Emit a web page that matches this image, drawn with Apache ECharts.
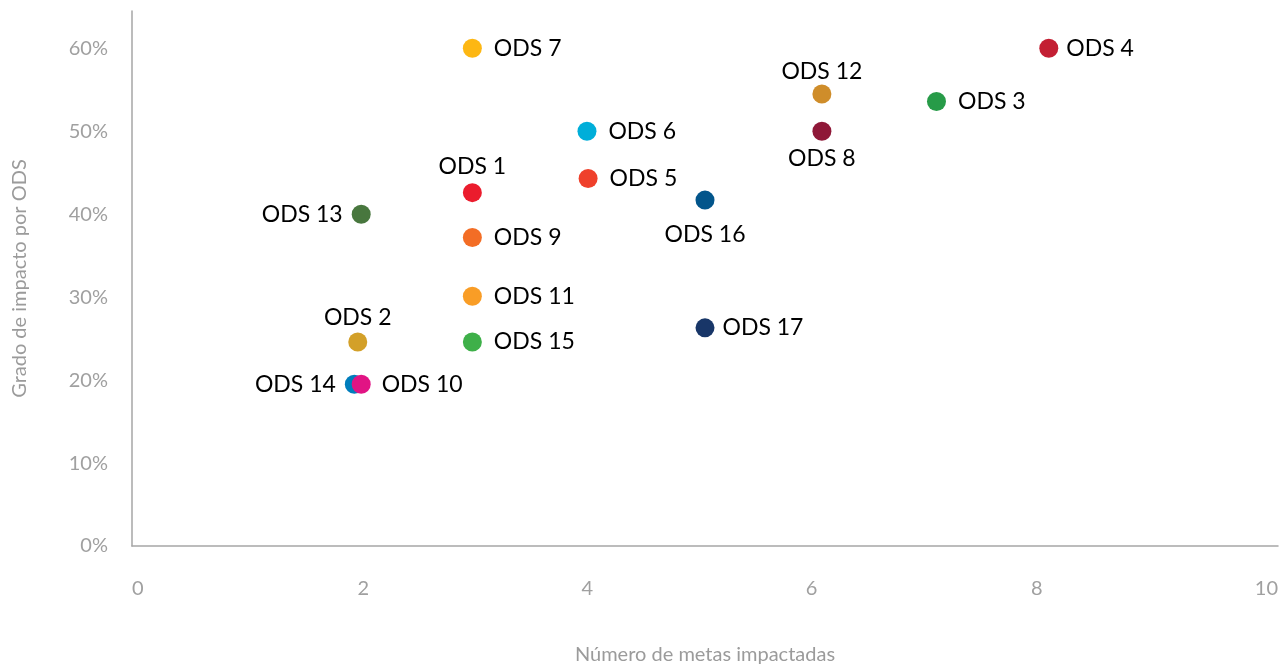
<!DOCTYPE html>
<html>
<head>
<meta charset="utf-8">
<script src="https://cdn.jsdelivr.net/npm/echarts@6/dist/echarts.min.js"></script>
<style>
html,body{margin:0;padding:0;background:#fff;}
#chart{width:1288px;height:666px;}
</style>
</head>
<body>
<div id="chart"></div>
<script>
// Data
const names = ['ODS 1','ODS 2','ODS 3','ODS 4','ODS 5','ODS 6','ODS 7','ODS 8','ODS 9','ODS 10','ODS 11','ODS 12','ODS 13','ODS 14','ODS 15','ODS 16','ODS 17'];
const metasImpactadas = [2.97, 1.97, 7.02, 8, 3.98, 3.97, 2.97, 6.02, 2.97, 2.0, 2.97, 6.02, 2.0, 1.94, 2.97, 5.0, 5.0];
const gradoImpacto = [0.426, 0.246, 0.536, 0.6, 0.443, 0.5, 0.6, 0.5, 0.372, 0.195, 0.301, 0.545, 0.4, 0.195, 0.246, 0.417, 0.263];
const xTicks = [0, 2, 4, 6, 8, 10];
const yTicks = [0, 0.1, 0.2, 0.3, 0.4, 0.5, 0.6];

// Styling
const colors = ['#EB1C2D','#D3A029','#279B48','#C31F33','#EF402B','#00AED9','#FDB713','#8F1838','#F36D25','#E11484','#F99D26','#CF8D2A','#48773E','#007DBC','#3EB049','#02558B','#183668'];
const labelSide = ['top','top','right','right','right','right','right','bottom','right','right','right','top','left','left','right','bottom','right'];
const labelGap = [5, 3, 12, 8, 12, 12, 12, 6, 12, 11, 12, 1, 9, 9, 12, 13, 8];
// horizontal nudge (px) of x tick labels, as placed in the reference
const xLabelShift = [0, 2, -3, -8, -12, 0];

const data = names.map((n, i) => ({
  name: n,
  value: [metasImpactadas[i], gradoImpacto[i]],
  itemStyle: { color: colors[i], opacity: 1 },
  label: { position: labelSide[i], distance: labelGap[i] }
}));
// draw ODS 14 before ODS 10 so ODS 10 overlaps it
const order = [0,1,2,3,4,5,6,7,8,13,9,10,11,12,14,15,16];
const orderedData = order.map(i => data[i]);

const xRich = {};
xTicks.forEach((t, i) => {
  const s = xLabelShift[i];
  xRich['t' + i] = {
    color: '#a0a0a0', fontSize: 20, fontFamily: 'Lato',
    padding: s >= 0 ? [0, 0, 0, 2 * s] : [0, -2 * s, 0, 0]
  };
});

const chart = echarts.init(document.getElementById('chart'), null, {renderer: 'canvas'});
const font = 'Lato';
chart.setOption({
  animation: false,
  backgroundColor: '#ffffff',
  grid: { left: 132, right: 10, top: 11, bottom: 120, containLabel: false, outerBoundsMode: 'none' },
  xAxis: {
    type: 'value', min: 0, max: 10, interval: 2,
    name: 'Número de metas impactadas', nameLocation: 'middle', nameGap: 99,
    nameTextStyle: { color: '#9b9b9b', fontSize: 20, fontFamily: font },
    axisLine: { show: true, lineStyle: { color: '#a6a6a6', width: 1.5 } },
    axisTick: { show: false },
    splitLine: { show: false },
    axisLabel: {
      color: '#a0a0a0', fontSize: 20, fontFamily: font, margin: 33,
      alignMinLabel: 'left', alignMaxLabel: 'right',
      formatter: v => {
        const i = xTicks.indexOf(v);
        return i < 0 ? '' : '{t' + i + '|' + v + '}';
      },
      rich: xRich
    }
  },
  yAxis: {
    type: 'value', min: 0, max: 0.645, interval: 0.1,
    name: 'Grado de impacto por ODS', nameLocation: 'middle', nameGap: 102,
    nameTextStyle: { color: '#9b9b9b', fontSize: 20, fontFamily: font },
    axisLine: { show: true, lineStyle: { color: '#a6a6a6', width: 1.5 } },
    axisTick: { show: false },
    splitLine: { show: false },
    axisLabel: {
      color: '#a0a0a0', fontSize: 20, fontFamily: font, margin: 24,
      showMaxLabel: false,
      formatter: v => {
        const t = yTicks.find(y => Math.abs(y - v) < 1e-6);
        return t === undefined ? '' : Math.round(t * 100) + '%';
      }
    }
  },
  series: [{
    type: 'scatter',
    symbol: 'circle',
    symbolSize: 19,
    data: orderedData,
    itemStyle: { opacity: 1 },
    label: {
      show: true,
      formatter: p => p.name,
      color: '#000000',
      fontSize: 23,
      fontFamily: font
    },
    emphasis: { disabled: true },
    labelLayout: { hideOverlap: false }
  }]
});
</script>
</body>
</html>
